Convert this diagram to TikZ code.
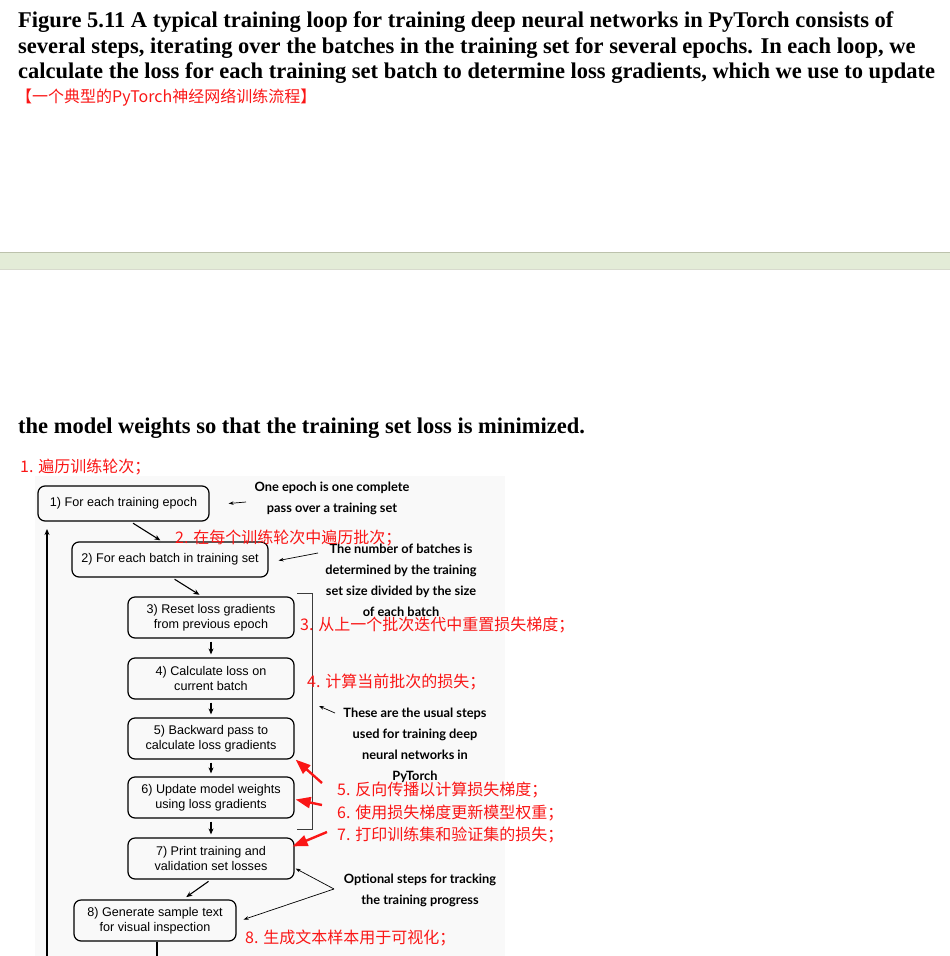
\documentclass[tikz,border=0pt]{standalone}
\usepackage{fontspec}
\setmainfont{Liberation Serif}
\setsansfont{Liberation Sans}
\newfontfamily\cjkfont{Noto Sans CJK SC}
\newfontfamily\notefont{Lato}
\usetikzlibrary{arrows.meta, positioning}
\definecolor{notered}{RGB}{250,22,22}
\definecolor{bargreen}{RGB}{227,236,215}
\definecolor{baredge}{RGB}{188,194,172}
\definecolor{panelgray}{RGB}{249,249,249}
\definecolor{bracketgray}{RGB}{60,60,60}
\tikzset{
  stepbox/.style={rectangle, draw=black, line width=1.2pt, rounded corners=7pt,
    align=center, inner sep=0pt, font=\sffamily\fontsize{12.6}{15.5}\selectfont},
  notetext/.style={align=center, inner sep=0pt, font=\notefont\bfseries\fontsize{12.8}{21}\selectfont},
  zhtext/.style={anchor=west, inner sep=0pt, text=notered, font=\cjkfont\fontsize{16}{18}\selectfont},
  arrow/.style={-{Stealth[length=6pt,width=5pt]}, line width=1.1pt, color=black},
  notearrow/.style={-{Stealth[length=5pt,width=3.5pt]}, line width=0.7pt, color=black},
  redarrow/.style={-{Triangle[length=15pt,width=11pt]}, line width=2.4pt, color=notered},
  line/.style={line width=1.1pt, color=black}
}

\begin{document}
\begin{tikzpicture}[x=1pt, y=-1pt]
  \useasboundingbox (0,0) rectangle (950,956);

  % page text
  \node[anchor=west, align=left, inner sep=0pt, font=\bfseries\fontsize{22.5}{25.5}\selectfont] (caption) at (18,48)
    {Figure 5.11 A typical training loop for training deep neural networks in PyTorch consists of\\
     several steps, iterating over the batches in the training set for several epochs. In each loop, we\\
     calculate the loss for each training set batch to determine loss gradients, which we use to update};
  \node[zhtext] (zhtitle) at (16,98) {【一个典型的PyTorch神经网络训练流程】};

  \fill[bargreen] (0,252) rectangle (950,269);
  \draw[baredge, line width=1pt] (0,252) -- (950,252);
  \draw[baredge!60, line width=0.8pt] (0,269) -- (950,269);

  \node[anchor=west, inner sep=0pt, font=\bfseries\fontsize{22.5}{25.5}\selectfont] (captionend) at (18,428)
    {the model weights so that the training set loss is minimized.};

  % figure panel
  \fill[panelgray] (35,476) rectangle (505,956);

  \node[stepbox, minimum width=171pt, minimum height=35pt] (epoch) at (123.5,503.5) {1) For each training epoch};
  \node[stepbox, minimum width=196pt, minimum height=35pt] (batch) at (170,559.5) {2) For each batch in training set};
  \node[stepbox, minimum width=166pt, minimum height=41pt] (reset) at (211,617.5) {3) Reset loss gradients\\from previous epoch};
  \node[stepbox, minimum width=166pt, minimum height=41pt] (loss) at (211,678.5) {4) Calculate loss on\\current batch};
  \node[stepbox, minimum width=166pt, minimum height=41pt] (backward) at (211,738.5) {5) Backward pass to\\calculate loss gradients};
  \node[stepbox, minimum width=166pt, minimum height=41pt] (update) at (211,797.5) {6) Update model weights\\using loss gradients};
  \node[stepbox, minimum width=166pt, minimum height=41pt] (print) at (211,858.5) {7) Print training and\\validation set losses};
  \node[stepbox, minimum width=162pt, minimum height=41pt] (sample) at (155,920.5) {8) Generate sample text\\for visual inspection};

  \draw[arrow, shorten <=3pt, shorten >=2pt] ([xshift=7pt]epoch.south) -- ([xshift=-8pt]batch.north);
  \draw[arrow, shorten <=3pt, shorten >=3pt] ([xshift=2pt]batch.south) -- ([xshift=-9pt]reset.north);
  \draw[arrow, shorten <=3pt, shorten >=3pt] (reset) -- (loss);
  \draw[arrow, shorten <=3pt, shorten >=3pt] (loss) -- (backward);
  \draw[arrow, shorten <=3pt, shorten >=3pt] (backward) -- (update);
  \draw[arrow, shorten <=3pt, shorten >=3pt] (update) -- (print);
  \draw[arrow, shorten <=3pt, shorten >=4pt] (print.south) -- ([xshift=28pt]sample.north);

  % loop back to the epoch box
  \coordinate (loopright) at (157,956);
  \coordinate (loopleft) at (47,956);
  \coordinate (looptop) at (47,529);
  \draw[line] ([xshift=2pt]sample.south) -- (loopright);
  \draw[arrow] (loopleft) -- (looptop);

  % bracket over the usual steps
  \coordinate (brtop) at (297,593);
  \coordinate (brbot) at (297,829);
  \draw[bracketgray, line width=1pt] (brtop) -- (312,593) -- (312,829) -- (brbot);

  % notes
  \node[notetext] (epochnote) at (332,498.5) {One epoch is one complete\\pass over a training set};
  \node[notetext] (batchnote) at (401,580.5) {The number of batches is\\determined by the training\\set size divided by the size\\of each batch};
  \node[notetext] (usualnote) at (415,745.5) {These are the usual steps\\used for training deep\\neural networks in\\PyTorch};
  \node[notetext] (optnote) at (420,890.5) {Optional steps for tracking\\the training progress};

  \coordinate (epochtail) at (246,502);
  \coordinate (batchtail) at (318,553);
  \coordinate (usualtail) at (335,713);
  \coordinate (usualtip) at (319,706);
  \coordinate (opttail) at (334,889);
  \draw[notearrow] (epochtail) -- ([xshift=19pt]epoch.east);
  \draw[notearrow] (batchtail) -- ([xshift=10pt,yshift=-1pt]batch.east);
  \draw[notearrow] (usualtail) -- (usualtip);
  \draw[notearrow] (opttail) -- ([shift={(1pt,-10pt)}]print.east);
  \draw[notearrow] (opttail) -- ([shift={(7pt,1pt)}]sample.east);

  % red annotations
  \node[zhtext] (zh1) at (20,467) {1. 遍历训练轮次；};
  \node[zhtext] (zh2) at (175,538) {2. 在每个训练轮次中遍历批次；};
  \node[zhtext] (zh3) at (300,625) {3. 从上一个批次迭代中重置损失梯度；};
  \node[zhtext] (zh4) at (307,682) {4. 计算当前批次的损失；};
  \node[zhtext] (zh5) at (337,790) {5. 反向传播以计算损失梯度；};
  \node[zhtext] (zh6) at (337,813) {6. 使用损失梯度更新模型权重；};
  \node[zhtext] (zh7) at (337,835) {7. 打印训练集和验证集的损失；};
  \node[zhtext] (zh8) at (245,938) {8. 生成文本样本用于可视化；};

  \coordinate (red5tail) at (322,783);
  \coordinate (red6tail) at (322,805);
  \coordinate (red7tail) at (327,832);
  \draw[redarrow] (red5tail) -- ([xshift=1pt]backward.south east);
  \draw[redarrow] (red6tail) -- ([xshift=1pt,yshift=-2pt]update.east);
  \draw[redarrow] (red7tail) -- ([shift={(-2pt,-9pt)}]print.north east);
\end{tikzpicture}
\end{document}
